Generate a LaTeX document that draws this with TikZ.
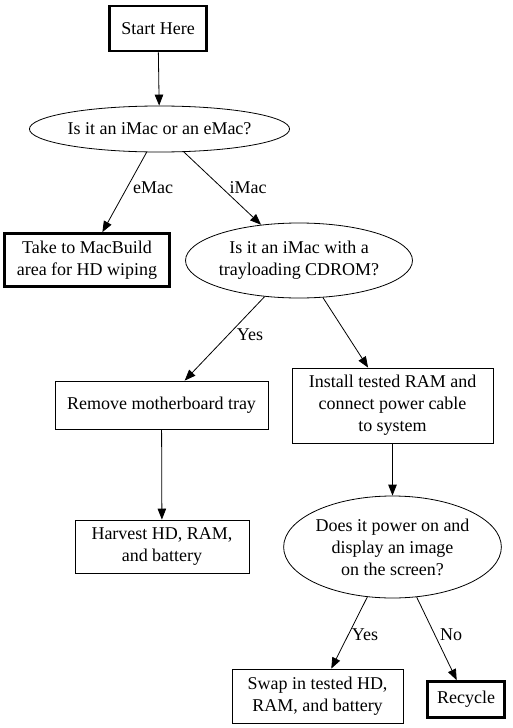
\documentclass[tikz,border=0pt]{standalone}
\usepackage{fontspec}
\setmainfont{Liberation Serif}
\usetikzlibrary{shapes.geometric,arrows.meta}
\begin{document}
\begin{tikzpicture}[x=1pt,y=-1pt,
 font=\fontsize{18}{22}\selectfont,
 box/.style={draw,rectangle,line width=0.8pt,inner sep=0pt,align=center},
 term/.style={box,line width=2.6pt},
 dec/.style={draw,ellipse,line width=0.8pt,inner sep=0pt,align=center},
 arr/.style={-{Triangle[length=11pt,width=8.5pt]},line width=0.8pt},
 lbl/.style={inner sep=0pt}]
\useasboundingbox[fill=white] (0,0) rectangle (512,728);
\node[term,minimum width=97pt,minimum height=45pt] (start) at (158,28.5) {Start Here};
\node[dec,minimum width=226pt,minimum height=46pt] (q1) at (159.5,129) {Is it an iMac or an eMac?};
\node[term,minimum width=165pt,minimum height=53pt] (take) at (87,260) {Take to MacBuild\\area for HD wiping};
\node[dec,minimum width=204pt,minimum height=75pt] (q2) at (299,260.5) {Is it an iMac with a\\trayloading CDROM?};
\node[box,minimum width=213pt,minimum height=48pt] (remove) at (161.5,405) {Remove motherboard tray};
\node[box,minimum width=201pt,minimum height=75pt] (install) at (392.5,405.5) {Install tested RAM and\\connect power cable\\to system};
\node[box,minimum width=174pt,minimum height=53pt] (harvest) at (162,546.5) {Harvest HD, RAM,\\and battery};
\node[dec,minimum width=215pt,minimum height=102pt] (q3) at (392.5,547) {Does it power on and\\display an image\\on the screen?};
\node[box,minimum width=171pt,minimum height=54pt] (swap) at (317.5,696) {Swap in tested HD,\\RAM, and battery};
\node[term,minimum width=77pt,minimum height=36pt] (recycle) at (466,699.5) {Recycle};

\draw[arr] (start) -- (q1);
\draw[arr] (q1) -- (take);
\draw[arr] (q1) -- (q2);
\draw[arr] (q2) -- (remove);
\draw[arr] (q2) -- (install);
\draw[arr] (remove) -- (harvest);
\draw[arr] (install) -- (q3);
\draw[arr] (q3) -- (swap);
\draw[arr] (q3) -- (recycle);

\node[lbl] (l1) at (153,188) {eMac};
\node[lbl] (l2) at (248,188) {iMac};
\node[lbl] (l3) at (250,335) {Yes};
\node[lbl] (l4) at (365,635) {Yes};
\node[lbl] (l5) at (451,635) {No};
\end{tikzpicture}
\end{document}
